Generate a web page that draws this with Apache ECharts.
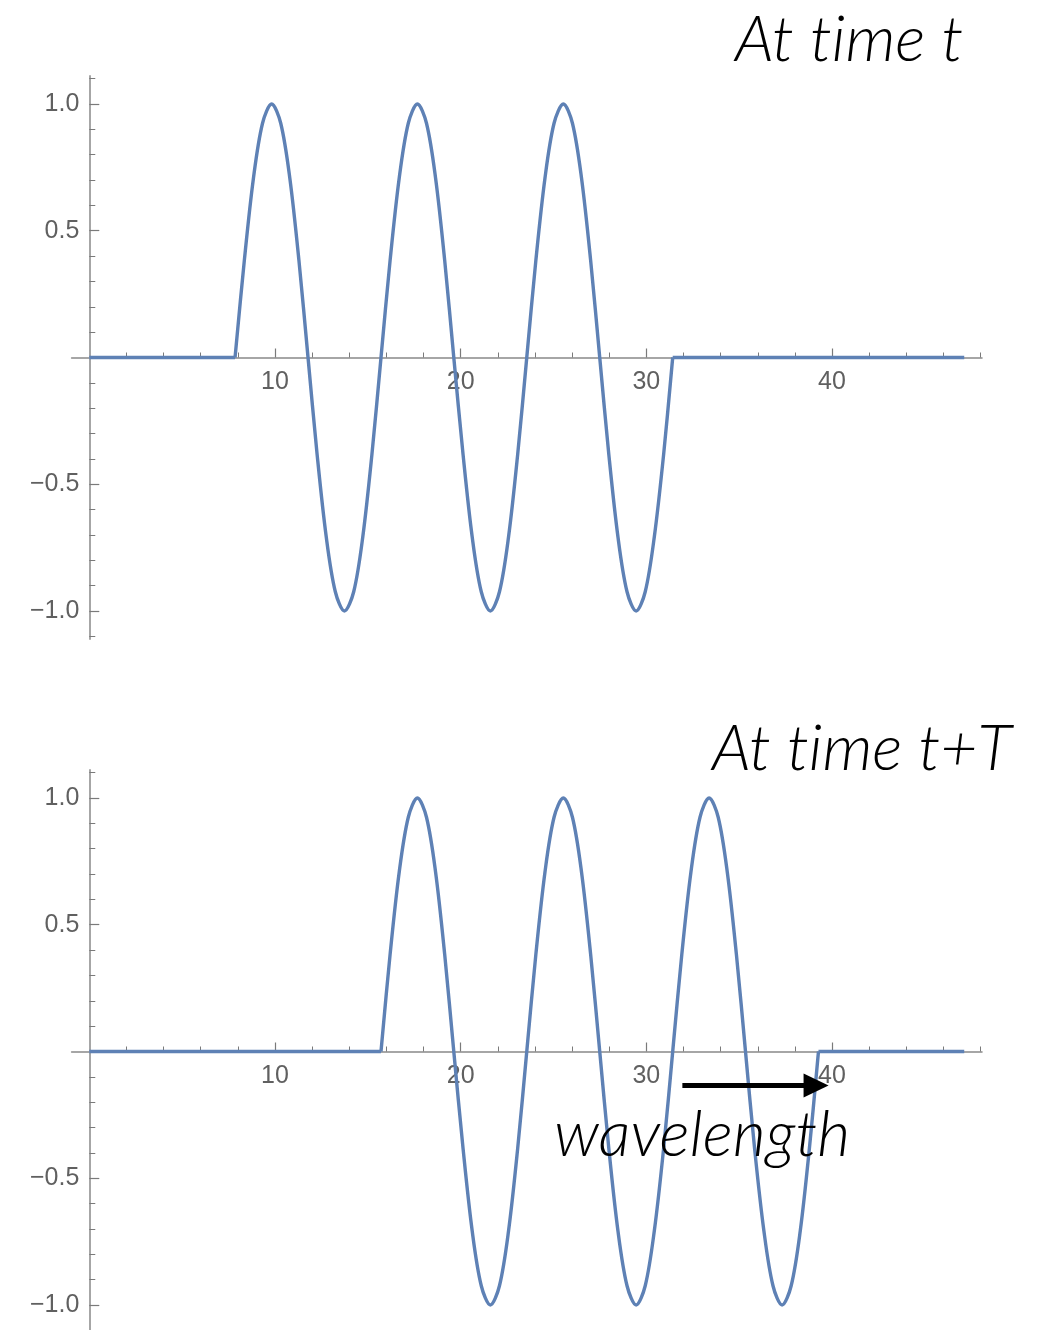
<!DOCTYPE html>
<html>
<head>
<meta charset="utf-8">
<script src="https://cdn.jsdelivr.net/npm/echarts@6/dist/echarts.min.js"></script>
<style>
  html, body { margin: 0; padding: 0; background: #ffffff; }
  #chart { width: 1038px; height: 1330px; }
</style>
</head>
<body>
<div id="chart"></div>
<script>
// Wave packet: three full cycles, sampled every 1/16 of a period.
const waveY = [
  0, 0.383, 0.707, 0.924, 1, 0.924, 0.707, 0.383, 0, -0.383, -0.707, -0.924, -1, -0.924, -0.707, -0.383,
  0, 0.383, 0.707, 0.924, 1, 0.924, 0.707, 0.383, 0, -0.383, -0.707, -0.924, -1, -0.924, -0.707, -0.383,
  0, 0.383, 0.707, 0.924, 1, 0.924, 0.707, 0.383, 0, -0.383, -0.707, -0.924, -1, -0.924, -0.707, -0.383,
  0
];
// Positions of the samples at time t
const waveXTop = [
  7.85, 8.35, 8.84, 9.33, 9.82, 10.31, 10.80, 11.29, 11.78, 12.27, 12.76, 13.25, 13.74, 14.24, 14.73, 15.22,
  15.71, 16.20, 16.69, 17.18, 17.67, 18.16, 18.65, 19.14, 19.63, 20.13, 20.62, 21.11, 21.60, 22.09, 22.58, 23.07,
  23.56, 24.05, 24.54, 25.03, 25.53, 26.02, 26.51, 27.00, 27.49, 27.98, 28.47, 28.96, 29.45, 29.94, 30.43, 30.93,
  31.42
];
// Positions of the samples one period later (t+T)
const waveXBottom = [
  15.71, 16.20, 16.69, 17.18, 17.67, 18.16, 18.65, 19.14, 19.63, 20.13, 20.62, 21.11, 21.60, 22.09, 22.58, 23.07,
  23.56, 24.05, 24.54, 25.03, 25.53, 26.02, 26.51, 27.00, 27.49, 27.98, 28.47, 28.96, 29.45, 29.94, 30.43, 30.93,
  31.42, 31.91, 32.40, 32.89, 33.38, 33.87, 34.36, 34.85, 35.34, 35.83, 36.33, 36.82, 37.31, 37.80, 38.29, 38.78,
  39.27
];
// Flat (zero) stretches before and after the packet
const flatTop = [[0, 0], [7.85, 0], [31.42, 0], [47.12, 0]];
const flatBottom = [[0, 0], [15.71, 0], [39.27, 0], [47.12, 0]];

// Axis ranges and ticks
const xRange = [-0.942, 48.066];
const yRange = [-1.11, 1.11];
const xMajorTicks = [10, 20, 30, 40];
const xMinorTicks = [2, 4, 6, 8, 12, 14, 16, 18, 22, 24, 26, 28, 32, 34, 36, 38, 42, 44, 46, 48];
const yMajorTicks = [-1, -0.5, 0.5, 1];
const yMinorTicks = [-1.1, -0.9, -0.8, -0.7, -0.6, -0.4, -0.3, -0.2, -0.1, 0.1, 0.2, 0.3, 0.4, 0.6, 0.7, 0.8, 0.9, 1.1];

// Arrow marking one wavelength on the lower panel (line start, line end under the head)
const arrowFrom = [31.94, -0.134];
const arrowTo = [39.14, -0.134];

// The zero-width non-joiner keeps "t" and "i" as separate glyphs
const titles = ['At t\u200Cime t', 'At t\u200Cime t+T'];
const noteText = 'wavelength';

const curveColor = '#5E81B5';
const axisGray = '#a6a6a6';
const tickGray = '#7a7a7a';
const labelGray = '#606060';
const labelFont = { fontFamily: 'Liberation Sans, Arial, sans-serif', fontSize: 25, color: labelGray };

function zip(xs, ys) { return xs.map((x, i) => [x, ys[i]]); }
function fmtY(v) { return (v < 0 ? '\u2212' : '') + Math.abs(v).toFixed(1); }

const grids = [
  { left: 71.8, width: 910, top: 76.1, height: 562.8, outerBoundsMode: 'none', containLabel: false },
  { left: 71.8, width: 910, top: 770.1, height: 562.8, outerBoundsMode: 'none', containLabel: false }
];

// Axes cross at the origin: shift them inward from the grid edges
const xAxisShift = g => -g.height * (0 - yRange[0]) / (yRange[1] - yRange[0]);
const yAxisShift = g => -g.width * (0 - xRange[0]) / (xRange[1] - xRange[0]);

const xAxes = [];
const yAxes = [];
grids.forEach((g, gi) => {
  const common = { type: 'value', gridIndex: gi, splitLine: { show: false } };
  xAxes.push(Object.assign({}, common, {
    min: xRange[0], max: xRange[1], position: 'bottom', offset: xAxisShift(g),
    axisLine: { show: true, onZero: false, lineStyle: { color: axisGray, width: 2 } },
    axisTick: { show: true, inside: true, length: 9, customValues: xMajorTicks, lineStyle: { color: tickGray, width: 1.2 } },
    axisLabel: Object.assign({ show: true, margin: 12, customValues: xMajorTicks, formatter: v => String(v) }, labelFont)
  }));
  xAxes.push(Object.assign({}, common, {
    min: xRange[0], max: xRange[1], position: 'bottom', offset: xAxisShift(g),
    axisLine: { show: false, onZero: false },
    axisTick: { show: true, inside: true, length: 5, customValues: xMinorTicks, lineStyle: { color: tickGray, width: 1 } },
    axisLabel: { show: false }
  }));
  yAxes.push(Object.assign({}, common, {
    min: yRange[0], max: yRange[1], position: 'left', offset: yAxisShift(g),
    axisLine: { show: true, onZero: false, lineStyle: { color: axisGray, width: 2 } },
    axisTick: { show: true, inside: true, length: 10, customValues: yMajorTicks, lineStyle: { color: tickGray, width: 1.2 } },
    axisLabel: Object.assign({ show: true, margin: 10, customValues: yMajorTicks, formatter: fmtY }, labelFont)
  }));
  yAxes.push(Object.assign({}, common, {
    min: yRange[0], max: yRange[1], position: 'left', offset: yAxisShift(g),
    axisLine: { show: false, onZero: false },
    axisTick: { show: true, inside: true, length: 6, customValues: yMinorTicks, lineStyle: { color: tickGray, width: 1 } },
    axisLabel: { show: false }
  }));
});

const curveStyle = { color: curveColor, width: 3.4 };

function waveSeries(gi, data) {
  return {
    type: 'line', xAxisIndex: gi * 2, yAxisIndex: gi * 2, data: data,
    smooth: 0.33, showSymbol: false, symbol: 'none', z: 3,
    lineStyle: curveStyle, animation: false
  };
}
function flatSeries(gi, pts) {
  return [
    { type: 'line', xAxisIndex: gi * 2, yAxisIndex: gi * 2, data: pts.slice(0, 2), symbol: 'none', z: 3,
      lineStyle: curveStyle, animation: false },
    { type: 'line', xAxisIndex: gi * 2, yAxisIndex: gi * 2, data: pts.slice(2, 4), symbol: 'none', z: 3,
      lineStyle: curveStyle, animation: false }
  ];
}

const bottomWave = waveSeries(1, zip(waveXBottom, waveY));
bottomWave.markLine = {
  silent: true, animation: false, z: 10,
  symbol: ['none', 'triangle'], symbolSize: [24, 25],
  lineStyle: { color: '#000000', width: 5, type: 'solid' },
  label: { show: false },
  data: [[{ coord: arrowFrom }, { coord: arrowTo }]]
};

const titleFont = { fontFamily: 'Lato, Liberation Sans, sans-serif', fontStyle: 'italic', fontWeight: 300, fontSize: 64, color: '#000000' };

const option = {
  backgroundColor: '#ffffff',
  animation: false,
  grid: grids,
  xAxis: xAxes,
  yAxis: yAxes,
  title: [
    { text: titles[0], left: 735, top: 8, padding: 0, textStyle: titleFont },
    { text: titles[1], left: 712, top: 717, padding: 0, textStyle: titleFont },
    { text: noteText, left: 554, top: 1103, padding: 0, textStyle: titleFont }
  ],
  series: [
    waveSeries(0, zip(waveXTop, waveY)),
    ...flatSeries(0, flatTop),
    bottomWave,
    ...flatSeries(1, flatBottom)
  ]
};

const chart = echarts.init(document.getElementById('chart'), null, { renderer: 'canvas' });
chart.setOption(option);
</script>
</body>
</html>
